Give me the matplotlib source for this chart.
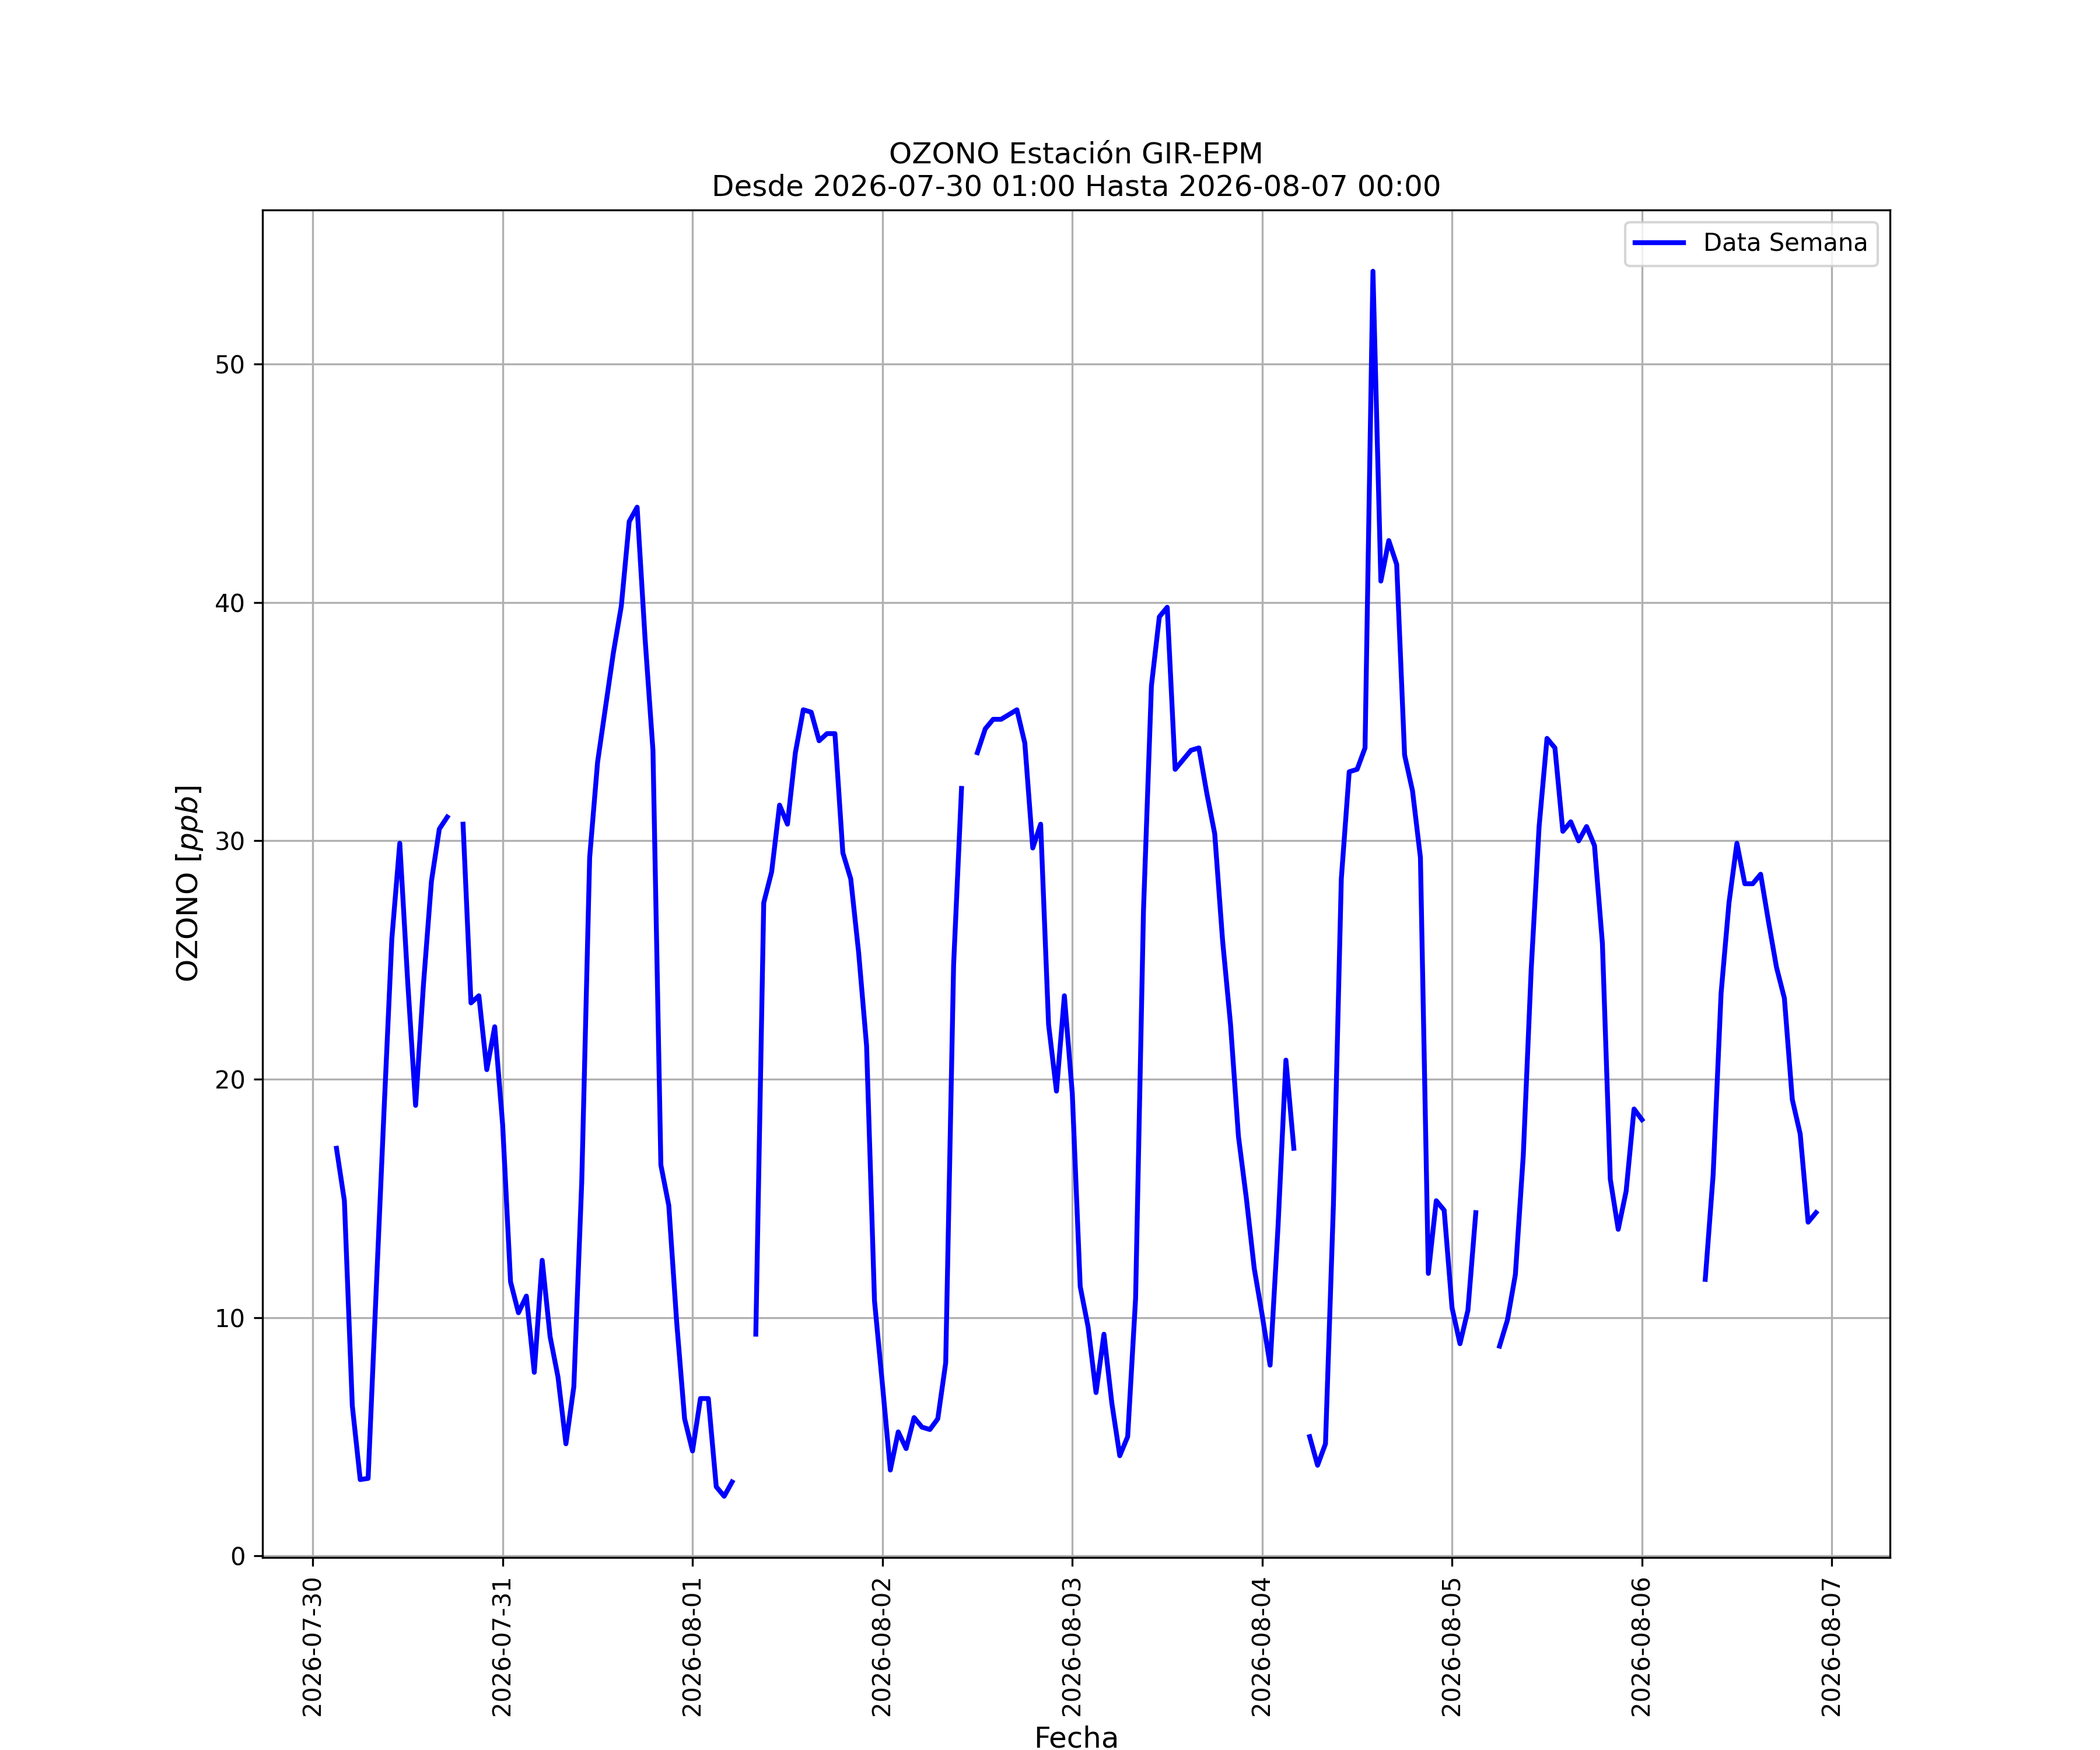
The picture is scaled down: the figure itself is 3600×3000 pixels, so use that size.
import numpy as np
import pandas as pd
import matplotlib
matplotlib.use("Agg")
import matplotlib.pyplot as plt
import matplotlib.dates as mdates

nan = np.nan

# hourly ozone values [ppb], one list per day (hours 00..23)
jul30 = [nan, nan, 17.1, 14.9, 6.3, 3.2, 3.25, 11.0, 18.6, 25.9, 29.9, 24.1,
         18.9, 24.0, 28.3, 30.5, 31.0, nan, 30.7, 23.2, 23.5, 20.4, 22.2]  # from 01:00
jul31 = [18.1, 11.5, 10.2, 10.9, 7.7, 12.4, 9.2, 7.5, 4.7, 7.1, 15.7, 29.3,
         33.3, 35.6, 37.9, 39.85, 43.4, 44.0, 38.5, 33.8, 16.4, 14.7, 9.8, 5.75]
aug01 = [4.4, 6.6, 6.6, 2.9, 2.5, 3.1, nan, nan, 9.3, 27.4, 28.7, 31.5,
         30.7, 33.7, 35.5, 35.4, 34.2, 34.5, 34.5, 29.5, 28.4, 25.3, 21.4, 10.7]
aug02 = [7.2, 3.6, 5.2, 4.5, 5.8, 5.4, 5.3, 5.75, 8.1, 24.8, 32.2, nan,
         33.7, 34.7, 35.1, 35.1, 35.3, 35.5, 34.1, 29.7, 30.7, 22.3, 19.5, 23.5]
aug03 = [19.4, 11.3, 9.6, 6.85, 9.3, 6.4, 4.2, 5.0, 10.8, 27.1, 36.5, 39.4,
         39.8, 33.0, 33.4, 33.8, 33.9, 32.0, 30.3, 25.8, 22.3, 17.6, 15.0, 12.05]
aug04 = [10.1, 8.0, 13.8, 20.8, 17.1, nan, 5.0, 3.8, 4.7, 14.7, 28.4, 32.9,
         33.0, 33.9, 53.9, 40.9, 42.6, 41.6, 33.6, 32.1, 29.3, 11.85, 14.9, 14.5]
aug05 = [10.4, 8.9, 10.3, 14.4, nan, nan, 8.8, 9.9, 11.8, 16.8, 24.6, 30.6,
         34.3, 33.9, 30.4, 30.8, 30.0, 30.6, 29.8, 25.7, 15.8, 13.7, 15.3, 18.75]
aug06 = [18.3, nan, nan, nan, nan, nan, nan, nan, 11.6, 16.0, 23.6, 27.4,
         29.9, 28.2, 28.2, 28.6, 26.6, 24.7, 23.4, 19.15, 17.7, 14.0, 14.4, nan]
aug07 = [nan]  # 00:00

valores = jul30 + jul31 + aug01 + aug02 + aug03 + aug04 + aug05 + aug06 + aug07
fechas = pd.date_range("2026-07-30 01:00", "2026-08-07 00:00", freq="h")

fig = plt.figure(figsize=(12, 10), dpi=300)
ax = fig.add_subplot(111)

ax.plot(fechas, valores, color="blue", lw=2, label="Data Semana")

ax.set_title("OZONO Estación GIR-EPM\nDesde 2026-07-30 01:00 Hasta 2026-08-07 00:00")
ax.set_xlabel("Fecha", fontsize=12)
ax.set_ylabel("OZONO $[ppb]$", fontsize=12)
ax.xaxis.set_major_locator(mdates.DayLocator())
ax.xaxis.set_major_formatter(mdates.DateFormatter("%Y-%m-%d"))
plt.setp(ax.get_xticklabels(), rotation=90)
ax.grid(True)
ax.legend(loc="upper right")

fig.savefig("out.png", dpi=300)
